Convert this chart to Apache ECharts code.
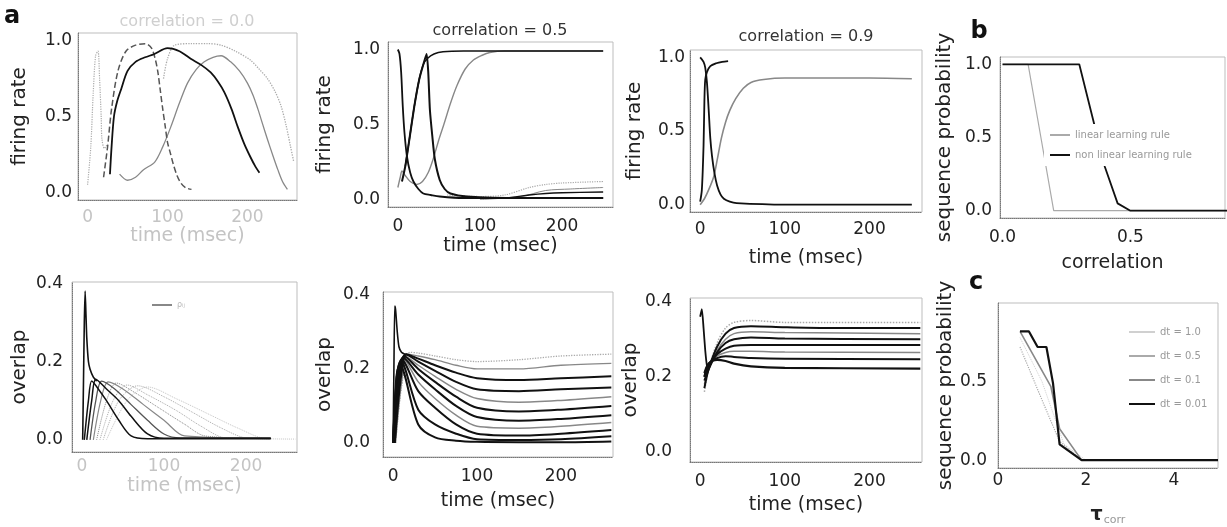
<!DOCTYPE html>
<html>
<head>
<meta charset="utf-8">
<script src="https://cdn.jsdelivr.net/npm/echarts@6/dist/echarts.min.js"></script>
<style>
html, body { margin: 0; padding: 0; background: #fff; }
#chart { width: 1227px; height: 527px; }
</style>
</head>
<body>
<div id="chart"></div>
<script>
// tick labels
var timeTicks = [0, 100, 200];
var rateTicks = [0, 0.5, 1.0];
var overlapTicks = [0, 0.2, 0.4];
var corrTicks = [0, 0.5];
var tauTicks = [0, 2, 4];

// a, top left: correlation = 0.0, firing rate [time, rate]
var a1K = [[28,0.12],[30,0.3],[33,0.5],[37,0.6],[42,0.68],[50,0.8],[60,0.86],[72,0.89],[83,0.91],[100,0.95],[115,0.93],[129,0.88],[142,0.84],[154,0.79],[163,0.73],[171,0.66],[180,0.55],[188,0.43],[196,0.32],[204,0.23],[210,0.17],[215,0.13]];
var a1L = [[20,0.1],[25,0.3],[30,0.55],[38,0.8],[48,0.93],[60,0.97],[72,0.98],[80,0.95],[85,0.87],[88,0.79],[91,0.67],[94,0.55],[97,0.44],[100,0.33],[104,0.25],[107,0.19],[112,0.11],[117,0.06],[123,0.03],[130,0.02]];
var a1M = [[40,0.12],[50,0.08],[60,0.1],[70,0.15],[84,0.2],[94,0.3],[104,0.43],[115,0.59],[125,0.72],[136,0.81],[146,0.86],[157,0.89],[167,0.9],[179,0.86],[190,0.8],[200,0.72],[207,0.64],[213,0.55],[219,0.45],[225,0.35],[232,0.24],[238,0.15],[244,0.07],[250,0.02]];
var a1N = [[95,0.75],[100,0.88],[109,0.97],[130,0.98],[150,0.98],[167,0.97],[185,0.93],[204,0.87],[215,0.81],[225,0.75],[235,0.66],[242,0.57],[248,0.45],[254,0.3],[258,0.2]];
var a1O = [[0,0.05],[4,0.3],[7,0.65],[10,0.9],[13,0.93],[15,0.75],[17,0.5],[18,0.35],[21,0.29],[25,0.32]];

// a, top middle: correlation = 0.5
var a2A = [[0,1.0],[2,0.97],[4,0.85],[6,0.62],[8,0.45],[11,0.29],[15,0.18],[19,0.12],[25,0.07],[31,0.04],[40,0.03],[51,0.02],[80,0.01],[150,0.01],[250,0.01]];
var a2B = [[5,0.12],[9,0.22],[14,0.4],[20,0.62],[26,0.8],[31,0.9],[35,0.97],[37,0.85],[39,0.6],[42,0.42],[45,0.27],[51,0.13],[57,0.07],[64,0.04],[84,0.02],[150,0.01],[250,0.01]];
var a2D = [[9,0.22],[14,0.4],[20,0.62],[26,0.8],[31,0.9],[36,0.94],[44,0.97],[55,0.985],[80,0.99],[150,0.99],[250,0.99]];
var a2C = [[0,0.08],[3,0.15],[5,0.19],[9,0.16],[15,0.12],[23,0.1],[30,0.12],[37,0.18],[43,0.27],[50,0.4],[56,0.5],[64,0.64],[72,0.76],[82,0.87],[92,0.93],[102,0.96],[112,0.98],[130,0.99],[250,0.99]];
var a2E = [[60,0.03],[100,0.02],[130,0.03],[160,0.08],[180,0.1],[200,0.11],[250,0.12]];
var a2F = [[90,0.01],[130,0.01],[160,0.03],[180,0.04],[200,0.045],[250,0.05]];
var a2G = [[100,0.0],[150,0.02],[180,0.06],[210,0.07],[250,0.08]];

// a, top right: correlation = 0.9
var a3A = [[0,1.0],[4,0.97],[6,0.93],[8,0.83],[10,0.65],[12,0.45],[14,0.33],[17,0.21],[20,0.13],[24,0.07],[28,0.04],[35,0.02],[43,0.01],[100,0.0],[250,0.0]];
var a3B = [[0,0.02],[2,0.1],[4,0.4],[5,0.7],[6,0.85],[8,0.9],[12,0.94],[19,0.96],[26,0.97],[33,0.975]];
var a3C = [[0,0.0],[5,0.04],[10,0.1],[16,0.19],[20,0.3],[25,0.45],[30,0.56],[35,0.64],[42,0.72],[51,0.79],[60,0.83],[75,0.85],[100,0.86],[150,0.86],[200,0.86],[250,0.855]];

// a, bottom left: overlap, correlation 0.0
var a4S = [[1,0.0],[2,0.15],[3,0.3],[4,0.38],[5,0.32],[6,0.26],[8,0.2],[10,0.18],[14,0.16],[18,0.15]];
var a4F1 = [[3,0.0],[8,0.1],[12,0.15],[20,0.13],[30,0.1],[45,0.05],[60,0.01],[80,0.003],[230,0.003]];
var a4F2 = [[6,0.0],[12,0.1],[17,0.155],[30,0.13],[45,0.1],[60,0.06],[80,0.015],[100,0.004],[230,0.004]];
var a4F3 = [[10,0.0],[17,0.1],[24,0.15],[40,0.13],[60,0.09],[80,0.05],[100,0.015],[120,0.005],[230,0.005]];
var a4F4 = [[14,0.0],[23,0.1],[32,0.148],[50,0.13],[75,0.09],[100,0.05],[125,0.01],[230,0.004]];
var a4F5 = [[18,0.0],[30,0.1],[42,0.145],[65,0.12],[95,0.08],[125,0.04],[150,0.01],[230,0.003]];
var a4F6 = [[22,0.0],[38,0.1],[55,0.14],[80,0.115],[115,0.075],[145,0.035],[175,0.005],[230,0.003]];
var a4F7 = [[26,0.0],[45,0.1],[68,0.138],[100,0.11],[135,0.07],[170,0.03],[200,0.005],[230,0.003]];
var a4F8 = [[30,0.0],[55,0.1],[80,0.135],[115,0.105],[155,0.065],[190,0.03],[225,0.003],[260,0.002]];

// a, bottom middle: overlap, correlation 0.5
var a5S = [[0,0.0],[1,0.2],[2,0.37],[3,0.36],[5,0.3],[7,0.26],[10,0.245],[14,0.24]];
var a5C1 = [[3,0.0],[10,0.15],[20,0.245],[30,0.243],[50,0.235],[75,0.225],[100,0.22],[150,0.225],[200,0.235],[260,0.24]];
var a5C2 = [[3,0.0],[10,0.16],[18,0.24],[30,0.235],[50,0.225],[75,0.21],[100,0.2],[150,0.2],[200,0.21],[260,0.215]];
var a5C3 = [[2,0.0],[9,0.17],[16,0.24],[30,0.228],[50,0.21],[75,0.19],[100,0.175],[150,0.17],[200,0.175],[260,0.18]];
var a5C4 = [[2,0.0],[8,0.17],[15,0.24],[30,0.22],[50,0.195],[75,0.165],[100,0.145],[150,0.14],[200,0.145],[260,0.15]];
var a5C5 = [[1,0.0],[7,0.17],[14,0.235],[30,0.21],[50,0.18],[75,0.145],[100,0.12],[150,0.11],[200,0.115],[260,0.125]];
var a5C6 = [[1,0.0],[7,0.18],[13,0.235],[30,0.2],[50,0.165],[75,0.125],[100,0.095],[150,0.085],[200,0.09],[260,0.1]];
var a5C7 = [[1,0.0],[6,0.18],[12,0.23],[30,0.185],[50,0.145],[75,0.1],[100,0.07],[150,0.06],[200,0.065],[260,0.075]];
var a5C8 = [[0,0.0],[6,0.19],[11,0.23],[30,0.165],[50,0.12],[75,0.075],[100,0.045],[150,0.04],[200,0.045],[260,0.055]];
var a5C9 = [[0,0.0],[5,0.19],[10,0.225],[30,0.14],[50,0.095],[75,0.05],[100,0.025],[150,0.02],[200,0.025],[260,0.035]];
var a5C10 = [[0,0.0],[5,0.19],[9,0.22],[30,0.09],[50,0.05],[75,0.025],[100,0.01],[150,0.008],[200,0.01],[260,0.018]];
var a5C11 = [[0,0.0],[4,0.18],[8,0.21],[30,0.05],[50,0.015],[75,0.006],[100,0.003],[150,0.002],[200,0.002],[260,0.004]];

// a, bottom right: overlap, correlation 0.9
var a6S = [[0,0.36],[2,0.38],[4,0.33],[6,0.27],[8,0.23],[10,0.22]];
var a6D1 = [[5,0.16],[10,0.22],[20,0.29],[30,0.33],[40,0.345],[60,0.35],[100,0.345],[150,0.345],[200,0.345],[260,0.345]];
var a6D2 = [[5,0.17],[10,0.22],[20,0.28],[30,0.315],[40,0.33],[60,0.335],[100,0.332],[150,0.33],[200,0.33],[260,0.33]];
var a6D3 = [[5,0.18],[10,0.22],[20,0.27],[30,0.3],[40,0.315],[60,0.32],[100,0.318],[260,0.315]];
var a6D4 = [[5,0.19],[10,0.22],[20,0.265],[30,0.29],[40,0.3],[60,0.305],[100,0.302],[260,0.3]];
var a6D5 = [[5,0.2],[10,0.23],[20,0.26],[30,0.275],[40,0.283],[60,0.285],[100,0.285],[260,0.285]];
var a6D6 = [[5,0.2],[10,0.23],[20,0.255],[30,0.265],[40,0.268],[60,0.268],[100,0.266],[260,0.265]];
var a6D7 = [[5,0.2],[10,0.235],[20,0.25],[30,0.255],[40,0.253],[60,0.25],[100,0.248],[260,0.247]];
var a6D8 = [[5,0.21],[10,0.235],[20,0.245],[30,0.242],[40,0.235],[60,0.228],[100,0.224],[260,0.222]];

// b: sequence probability vs correlation
var corrValues = [0, 0.05, 0.1, 0.15, 0.2, 0.25, 0.3, 0.35, 0.4, 0.45, 0.5, 0.55, 0.6, 0.65, 0.7, 0.75, 0.8, 0.85, 0.9];
var linearRule = [1, 1, 1, 0.5, 0, 0, 0, 0, 0, 0, 0, 0, 0, 0, 0, 0, 0, 0, 0];
var nonLinearRule = [1, 1, 1, 1, 1, 1, 1, 0.65, 0.3, 0.05, 0, 0, 0, 0, 0, 0, 0, 0, 0];

// c: sequence probability vs tau_corr [tau, prob]
var dt10 = [[0.5,0.78],[1.0,0.5],[1.5,0.1],[2.0,0.0],[5,0.0]];
var dt05 = [[0.5,0.72],[0.9,0.45],[1.2,0.25],[1.4,0.12],[1.9,0.0],[5,0.0]];
var dt01 = [[0.5,0.82],[1.2,0.47],[1.4,0.2],[1.9,0.0],[5,0.0]];
var dt001 = [[0.5,0.82],[0.7,0.82],[0.9,0.72],[1.1,0.72],[1.25,0.49],[1.4,0.1],[1.9,0.0],[5,0.0]];

var BLACK = '#111', DARK = '#555', MID = '#888', LIGHT = '#aaa', FAINT = '#c4c4c4';
var FONT = 'DejaVu Sans';

var grids = [], xAxes = [], yAxes = [], series = [];

var fmt1 = function (v) { return v.toFixed(1); };
var fmt0 = function (v) { return String(v); };

function axis(gi, o, isX) {
    return {
        type: 'value', gridIndex: gi, min: o.min, max: o.max,
        name: o.name, nameLocation: 'middle', nameGap: o.gap,
        nameTextStyle: { fontFamily: FONT, fontSize: isX ? 19 : 20, color: o.nameColor || '#222', rich: o.rich },
        axisLine: { show: true, onZero: false, lineStyle: { color: '#777', type: 'dotted', width: 1 } },
        axisTick: { show: false },
        splitLine: { show: false },
        axisLabel: { customValues: o.ticks, margin: o.margin, fontFamily: FONT, fontSize: 17, color: o.labelColor || '#222', formatter: o.fmt }
    };
}

function panel(box, x, y) {
    var gi = grids.length;
    grids.push({ left: box[0], top: box[1], width: box[2], height: box[3], show: true, borderColor: '#bdbdbd', borderWidth: 1 });
    xAxes.push(axis(gi, x, true));
    yAxes.push(axis(gi, y, false));
    return gi;
}

function line(gi, name, data, color, width, type, smooth) {
    series.push({
        type: 'line', name: name, xAxisIndex: gi, yAxisIndex: gi, data: data,
        symbol: 'none', smooth: smooth === undefined ? 0.3 : smooth,
        lineStyle: { color: color, width: width, type: type || 'solid' },
        itemStyle: { color: color }, silent: true, animation: false
    });
}

// ---- top row: firing rate
var g1 = panel([78, 33, 219, 167],
    { min: -12, max: 262, ticks: timeTicks, fmt: fmt0, name: 'time (msec)', gap: 27, margin: 9, labelColor: FAINT, nameColor: FAINT },
    { min: -0.05, max: 1.05, ticks: rateTicks, fmt: fmt1, name: 'firing rate', gap: 48, margin: 6 });
line(g1, 'a1-O', a1O, LIGHT, 1.2, 'dotted');
line(g1, 'a1-N', a1N, LIGHT, 1.3, 'dotted');
line(g1, 'a1-M', a1M, MID, 1.3);
line(g1, 'a1-L', a1L, DARK, 1.5, 'dashed');
line(g1, 'a1-K', a1K, BLACK, 1.8);

var g2 = panel([388, 42, 225, 165],
    { min: -12, max: 262, ticks: timeTicks, fmt: fmt0, name: 'time (msec)', gap: 30, margin: 11 },
    { min: -0.05, max: 1.05, ticks: rateTicks, fmt: fmt1, name: 'firing rate', gap: 53, margin: 8 });
line(g2, 'a2-E', a2E, LIGHT, 1.2, 'dotted');
line(g2, 'a2-G', a2G, MID, 1);
line(g2, 'a2-C', a2C, MID, 1.4);
line(g2, 'a2-F', a2F, BLACK, 1.3);
line(g2, 'a2-D', a2D, BLACK, 1.5);
line(g2, 'a2-A', a2A, BLACK, 1.8);
line(g2, 'a2-B', a2B, BLACK, 2, 'solid', 0.2);

var g3 = panel([690, 50, 232, 162],
    { min: -12, max: 262, ticks: timeTicks, fmt: fmt0, name: 'time (msec)', gap: 37, margin: 9 },
    { min: -0.05, max: 1.05, ticks: rateTicks, fmt: fmt1, name: 'firing rate', gap: 45, margin: 5 });
line(g3, 'a3-C', a3C, MID, 1.6);
line(g3, 'a3-A', a3A, BLACK, 1.8);
line(g3, 'a3-B', a3B, BLACK, 1.8);

// ---- b
var gb = panel([1000, 57, 225, 161],
    { min: -0.01, max: 0.87, ticks: corrTicks, fmt: fmt1, name: 'correlation', gap: 36, margin: 11 },
    { min: -0.05, max: 1.05, ticks: rateTicks, fmt: fmt1, name: 'sequence probability', gap: 45, margin: 8 });
line(gb, 'linear learning rule', corrValues.map(function (c, i) { return [c, linearRule[i]]; }), LIGHT, 1.2, 'solid', false);
line(gb, 'non linear learning rule', corrValues.map(function (c, i) { return [c, nonLinearRule[i]]; }), BLACK, 1.8, 'solid', false);

// ---- bottom row: overlap
var g4 = panel([72, 282, 225, 170],
    { min: -12, max: 262, ticks: timeTicks, fmt: fmt0, name: 'time (msec)', gap: 25, margin: 6, labelColor: FAINT, nameColor: FAINT },
    { min: -0.031, max: 0.403, ticks: overlapTicks, fmt: fmt1, name: 'overlap', gap: 42, margin: 9 });
line(g4, 'a4-F8', a4F8, FAINT, 1, 'dotted');
line(g4, 'a4-F7', a4F7, LIGHT, 1, 'dotted');
line(g4, 'a4-F6', a4F6, LIGHT, 1, 'dotted');
line(g4, 'a4-F5', a4F5, MID, 1, 'dotted');
line(g4, 'a4-F4', a4F4, MID, 1.2);
line(g4, 'a4-F3', a4F3, DARK, 1.3);
line(g4, 'a4-F2', a4F2, BLACK, 1.5);
line(g4, 'a4-F1', a4F1, BLACK, 1.5);
line(g4, 'ρᵢⱼ', a4S, BLACK, 1.6, 'solid', 0.2);

var g5 = panel([383, 292, 230, 165],
    { min: -12, max: 262, ticks: timeTicks, fmt: fmt0, name: 'time (msec)', gap: 35, margin: 11 },
    { min: -0.038, max: 0.408, ticks: overlapTicks, fmt: fmt1, name: 'overlap', gap: 48, margin: 13 });
line(g5, 'a5-C1', a5C1, LIGHT, 1.3, 'dotted');
line(g5, 'a5-C2', a5C2, MID, 1.3);
line(g5, 'a5-C5', a5C5, MID, 1.5);
line(g5, 'a5-C8', a5C8, MID, 1.5);
line(g5, 'a5-C3', a5C3, BLACK, 2);
line(g5, 'a5-C4', a5C4, BLACK, 2);
line(g5, 'a5-C6', a5C6, BLACK, 2);
line(g5, 'a5-C7', a5C7, BLACK, 2);
line(g5, 'a5-C9', a5C9, BLACK, 2);
line(g5, 'a5-C10', a5C10, BLACK, 2);
line(g5, 'a5-C11', a5C11, BLACK, 2);
line(g5, 'a5-S', a5S, BLACK, 1.6, 'solid', 0.2);

var g6 = panel([690, 298, 232, 164],
    { min: -12, max: 262, ticks: timeTicks, fmt: fmt0, name: 'time (msec)', gap: 34, margin: 11 },
    { min: -0.027, max: 0.41, ticks: overlapTicks, fmt: fmt1, name: 'overlap', gap: 48, margin: 18 });
line(g6, 'a6-D1', a6D1, LIGHT, 1.5, 'dotted');
line(g6, 'a6-D3', a6D3, MID, 1.5);
line(g6, 'a6-D6', a6D6, MID, 1.5);
line(g6, 'a6-D2', a6D2, BLACK, 2);
line(g6, 'a6-D4', a6D4, BLACK, 2);
line(g6, 'a6-D5', a6D5, BLACK, 2);
line(g6, 'a6-D7', a6D7, BLACK, 2);
line(g6, 'a6-D8', a6D8, BLACK, 2.2);
line(g6, 'a6-S', a6S, BLACK, 1.8, 'solid', 0.2);

// ---- c
var gc = panel([998, 303, 220, 167],
    { min: 0, max: 5, ticks: tauTicks, fmt: fmt0, name: '{t|τ}{s|corr}', gap: 37, margin: 4,
      rich: { t: { fontFamily: FONT, fontSize: 19, fontWeight: 'bold', color: '#222' }, s: { fontFamily: FONT, fontSize: 11, color: '#999', padding: [10, 0, 0, 1] } } },
    { min: -0.05, max: 1.0, ticks: [0, 0.5], fmt: fmt1, name: 'sequence probability', gap: 38, margin: 11 });
line(gc, 'dt = 1.0', dt10, '#d0d0d0', 1, 'dotted', false);
line(gc, 'dt = 0.5', dt05, LIGHT, 1.2, 'dotted', false);
line(gc, 'dt = 0.1', dt01, MID, 1.6, 'solid', false);
line(gc, 'dt = 0.01', dt001, BLACK, 2.2, 'solid', false);

var legendText = { fontFamily: FONT, fontSize: 10, color: '#999' };

var option = {
    backgroundColor: '#fff',
    animation: false,
    textStyle: { fontFamily: FONT },
    grid: grids,
    xAxis: xAxes,
    yAxis: yAxes,
    series: series,
    legend: [
        { data: ['linear learning rule', 'non linear learning rule'], left: 1044, top: 124, orient: 'vertical',
          icon: 'rect', itemWidth: 20, itemHeight: 2, itemGap: 10, padding: [6, 6, 6, 6], backgroundColor: '#fff',
          selectedMode: false, textStyle: legendText },
        { data: ['dt = 1.0', 'dt = 0.5', 'dt = 0.1', 'dt = 0.01'], left: 1124, top: 322, orient: 'vertical',
          icon: 'rect', itemWidth: 26, itemHeight: 2, itemGap: 14, selectedMode: false, textStyle: legendText },
        { data: ['ρᵢⱼ'], left: 147, top: 296, icon: 'rect', itemWidth: 20, itemHeight: 1, selectedMode: false,
          textStyle: { fontFamily: FONT, fontSize: 8, color: '#bbb' } }
    ],
    graphic: [
        { type: 'text', x: 12, y: 17, style: { text: 'a', font: 'bold 24px DejaVu Sans', fill: '#111', align: 'center', verticalAlign: 'middle' } },
        { type: 'text', x: 979, y: 32, style: { text: 'b', font: 'bold 24px DejaVu Sans', fill: '#111', align: 'center', verticalAlign: 'middle' } },
        { type: 'text', x: 976, y: 283, style: { text: 'c', font: 'bold 24px DejaVu Sans', fill: '#111', align: 'center', verticalAlign: 'middle' } },
        { type: 'text', x: 187, y: 22, style: { text: 'correlation = 0.0', font: '16px DejaVu Sans', fill: '#cfcfcf', align: 'center', verticalAlign: 'middle' } },
        { type: 'text', x: 500, y: 31, style: { text: 'correlation = 0.5', font: '16px DejaVu Sans', fill: '#333', align: 'center', verticalAlign: 'middle' } },
        { type: 'text', x: 806, y: 37, style: { text: 'correlation = 0.9', font: '16px DejaVu Sans', fill: '#333', align: 'center', verticalAlign: 'middle' } }
    ]
};

var chart = echarts.init(document.getElementById('chart'));
chart.setOption(option);
</script>
</body>
</html>
